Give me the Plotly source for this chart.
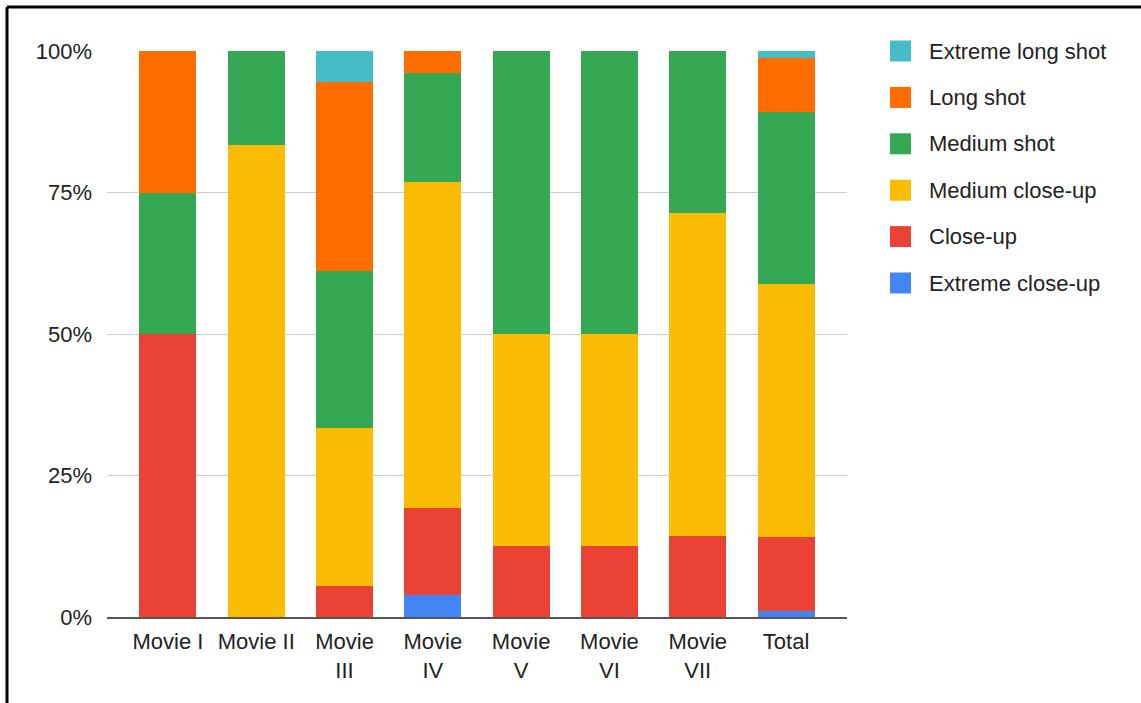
import plotly.graph_objects as go

# Shot-type share per film (percent of shots)
movies = ["Movie I", "Movie II", "Movie<br>III", "Movie<br>IV", "Movie<br>V",
          "Movie<br>VI", "Movie<br>VII", "Total"]

extreme_close_up = [0, 0, 0, 3.85, 0, 0, 0, 1.1]
close_up = [50, 0, 5.56, 15.38, 12.5, 12.5, 14.29, 13.0]
medium_close_up = [0, 83.33, 27.78, 57.69, 37.5, 37.5, 57.14, 44.8]
medium_shot = [25, 16.67, 27.78, 19.23, 50, 50, 28.57, 30.4]
long_shot = [25, 0, 33.33, 3.85, 0, 0, 0, 9.5]
extreme_long_shot = [0, 0, 5.56, 0, 0, 0, 0, 1.2]

y_ticks = [0, 25, 50, 75, 100]
y_tick_labels = ["0%", "25%", "50%", "75%", "100%"]

# bottom-to-top stacking order
series = [
    ("Extreme close-up", extreme_close_up, "#4285F4"),
    ("Close-up", close_up, "#EA4335"),
    ("Medium close-up", medium_close_up, "#FBBC04"),
    ("Medium shot", medium_shot, "#34A853"),
    ("Long shot", long_shot, "#FF6D01"),
    ("Extreme long shot", extreme_long_shot, "#46BDC6"),
]

W, H = 1141, 703
ML, MR, MT, MB = 107, 294, 51, 86
PW, PH = W - ML - MR, H - MT - MB
FONT = "Arial, Liberation Sans, sans-serif"
FS = 22
TEXT = "#222222"


def px_x(x):
    return (x - ML) / PW


def px_y(y):
    return (H - MB - y) / PH


fig = go.Figure()
for name, vals, color in series:
    fig.add_trace(go.Bar(
        x=movies, y=vals, name=name, marker=dict(color=color, line=dict(width=0)),
        width=0.645, showlegend=False,
    ))

shapes = []
annotations = []

# legend, top entry first
for i, (name, vals, color) in enumerate(reversed(series)):
    cy = 51 + i * 46.4
    shapes.append(dict(
        type="rect", xref="paper", yref="paper",
        x0=px_x(890), x1=px_x(911), y0=px_y(cy + 10.5), y1=px_y(cy - 10.5),
        fillcolor=color, line=dict(width=0), layer="above",
    ))
    annotations.append(dict(
        text=name, xref="paper", yref="paper", x=px_x(927), y=px_y(cy),
        xanchor="left", yanchor="middle", showarrow=False,
        font=dict(family=FONT, size=FS, color=TEXT),
    ))

# frame along the left and top edges
shapes.append(dict(type="line", xref="paper", yref="paper",
                   x0=px_x(7), x1=px_x(7), y0=px_y(7), y1=px_y(H + 5),
                   line=dict(color="black", width=3)))
shapes.append(dict(type="line", xref="paper", yref="paper",
                   x0=px_x(7), x1=px_x(W + 5), y0=px_y(7), y1=px_y(7),
                   line=dict(color="black", width=3)))

fig.update_layout(
    width=W, height=H,
    margin=dict(l=ML, r=MR, t=MT, b=MB),
    barmode="stack", bargap=0,
    paper_bgcolor="white", plot_bgcolor="white",
    font=dict(family=FONT, size=FS, color=TEXT),
    shapes=shapes, annotations=annotations,
    showlegend=False,
)
fig.update_xaxes(
    type="category", range=[-0.69, 7.69], showgrid=False,
    showline=True, linecolor="#555555", linewidth=1.5,
    ticks="", ticklabelstandoff=4,
    tickfont=dict(family=FONT, size=FS, color=TEXT),
)
fig.update_yaxes(
    range=[0, 100], tickvals=y_ticks, ticktext=y_tick_labels,
    showgrid=True, gridcolor="#cccccc", gridwidth=1,
    zeroline=False, showline=False, ticks="", ticklabelstandoff=14,
    tickfont=dict(family=FONT, size=FS, color=TEXT),
)

fig.write_html("out.html")
